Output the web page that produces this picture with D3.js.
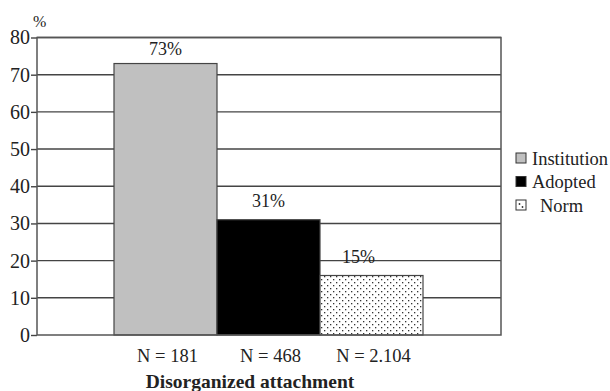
<!DOCTYPE html>
<html>
<head>
<meta charset="utf-8">
<script src="https://cdn.jsdelivr.net/npm/d3@7"></script>
<style>
  body { margin: 0; background: #fff; }
</style>
</head>
<body>
<svg id="chart" width="610" height="391" font-family="Liberation Serif"></svg>
<script>
// --- données ---
const groups = ["Institution", "Adopted", "Norm"];
const values = [73, 31, 16];
const valueLabels = ["73%", "31%", "15%"];
const sampleLabels = ["N = 181", "N = 468", "N = 2.104"];
const yTicks = [0, 10, 20, 30, 40, 50, 60, 70, 80];

const FONT = "Liberation Serif";

const svg = d3.select("#chart");
const plotLeft = 37, plotRight = 501, plotTop = 37.5, plotBottom = 335;

const y = d3.scaleLinear().domain([0, 80]).range([plotBottom, plotTop]);
const x = d3.scaleBand().domain(groups).range([114, 423]).padding(0);

// motif pointillé pour "Norm"
const defs = svg.append("defs");
const pat = defs.append("pattern")
    .attr("id", "dots")
    .attr("patternUnits", "userSpaceOnUse")
    .attr("width", 6).attr("height", 6);
pat.append("rect").attr("width", 6).attr("height", 6).attr("fill", "#fff");
pat.append("rect").attr("x", 0).attr("y", 0).attr("width", 1.3).attr("height", 1.3).attr("fill", "#333");
pat.append("rect").attr("x", 3).attr("y", 3).attr("width", 1.3).attr("height", 1.3).attr("fill", "#333");

const fills = ["#c0c0c0", "#000", "url(#dots)"];

// lignes de grille
svg.append("g")
    .selectAll("line")
    .data(yTicks.filter(d => d > 0))
    .join("line")
    .attr("x1", plotLeft).attr("x2", plotRight)
    .attr("y1", d => y(d)).attr("y2", d => y(d))
    .attr("stroke", "#444").attr("stroke-width", 1.4);

// axe gauche
const yAxis = svg.append("g")
    .attr("transform", `translate(${plotLeft},0)`)
    .call(d3.axisLeft(y).tickValues(yTicks).tickSize(6).tickPadding(1));
yAxis.attr("font-family", FONT).attr("font-size", 20);
yAxis.select(".domain").remove();
yAxis.selectAll(".tick line").attr("stroke", "#444").attr("stroke-width", 1.4);
yAxis.selectAll(".tick text").attr("fill", "#222");

// barres
svg.append("g")
    .selectAll("rect")
    .data(groups)
    .join("rect")
    .attr("x", d => x(d))
    .attr("y", (d, i) => y(values[i]))
    .attr("width", x.bandwidth())
    .attr("height", (d, i) => y(0) - y(values[i]))
    .attr("fill", (d, i) => fills[i])
    .attr("stroke", "#444").attr("stroke-width", 1.2);

// cadre
svg.append("rect")
    .attr("x", plotLeft).attr("y", plotTop)
    .attr("width", plotRight - plotLeft).attr("height", plotBottom - plotTop)
    .attr("fill", "none").attr("stroke", "#555").attr("stroke-width", 1.5);

// étiquettes de valeur
svg.append("g")
    .selectAll("text")
    .data(groups)
    .join("text")
    .attr("x", (d, i) => x(d) + x.bandwidth() / 2 - (i === 2 ? 13 : 0))
    .attr("y", (d, i) => y(values[i]) - (i === 0 ? 9 : 13))
    .attr("text-anchor", "middle")
    .attr("font-family", FONT)
    .attr("font-size", 18)
    .attr("fill", "#222")
    .text((d, i) => valueLabels[i]);

// N sous les barres
svg.append("g")
    .selectAll("text")
    .data(groups)
    .join("text")
    .attr("x", d => x(d) + x.bandwidth() / 2 + 2)
    .attr("y", 362)
    .attr("text-anchor", "middle")
    .attr("font-family", FONT)
    .attr("font-size", 18.5)
    .attr("fill", "#222")
    .text((d, i) => sampleLabels[i]);

svg.append("text")
    .attr("x", 250).attr("y", 388)
    .attr("text-anchor", "middle")
    .attr("font-family", FONT)
    .attr("font-size", 19.5)
    .attr("font-weight", "bold")
    .attr("fill", "#222")
    .text("Disorganized attachment");

svg.append("text")
    .attr("x", 33).attr("y", 27)
    .attr("font-family", FONT)
    .attr("font-size", 16)
    .attr("fill", "#222")
    .text("%");

// légende
const legend = svg.append("g")
    .selectAll("g")
    .data(groups)
    .join("g")
    .attr("transform", (d, i) => `translate(516,${153 + i * 23.5})`);
legend.append("rect")
    .attr("width", 10).attr("height", 10)
    .attr("fill", (d, i) => i === 2 ? "#fff" : fills[i])
    .attr("stroke", "#333").attr("stroke-width", 1);
legend.filter((d, i) => i === 2).append("circle").attr("cx", 3.5).attr("cy", 4).attr("r", 0.9).attr("fill", "#333");
legend.filter((d, i) => i === 2).append("circle").attr("cx", 6.5).attr("cy", 7).attr("r", 0.9).attr("fill", "#333");
legend.append("text")
    .attr("x", (d, i) => i === 2 ? 24 : 16)
    .attr("y", 11.5)
    .attr("font-family", FONT)
    .attr("font-size", 18.5)
    .attr("fill", "#222")
    .text(d => d);
</script>
</body>
</html>
